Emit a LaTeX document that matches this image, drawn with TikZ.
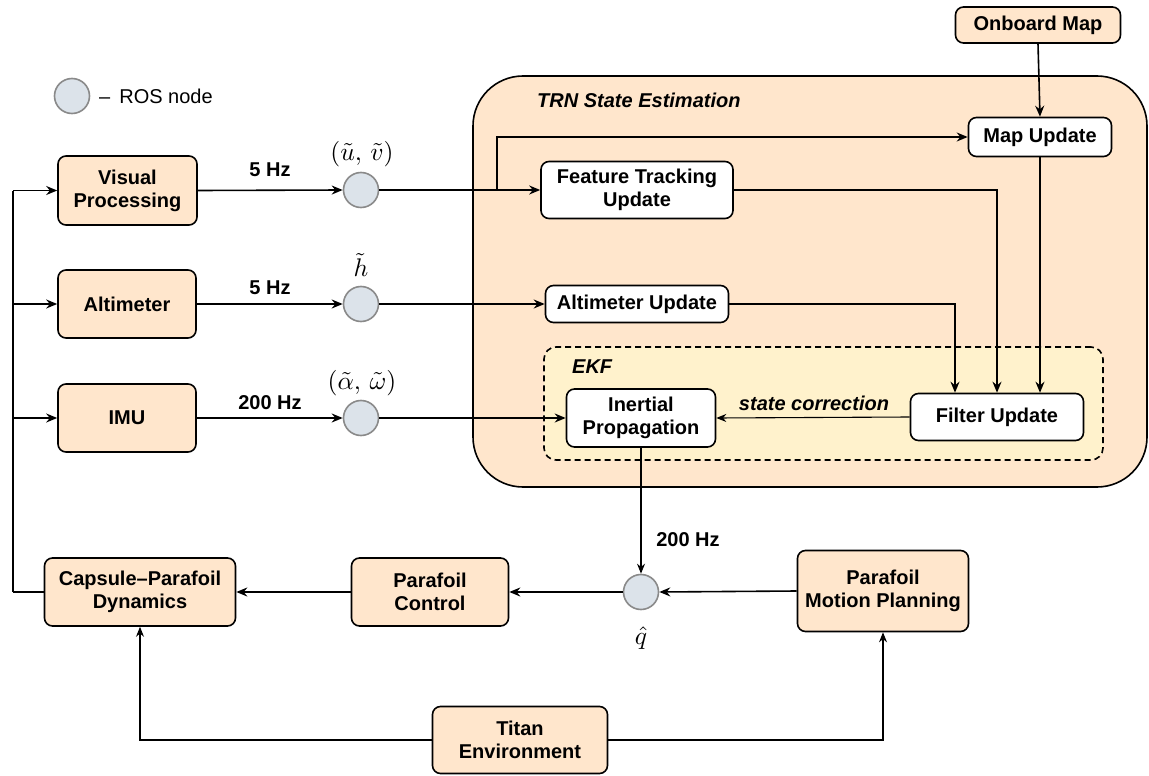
\documentclass[tikz,border=0pt]{standalone}
\usepackage{graphicx}
\usepackage{fontspec}
\setmainfont{Liberation Sans}
\usetikzlibrary{arrows.meta}
\definecolor{peach}{HTML}{FFE6CC}
\definecolor{ekfyel}{HTML}{FFF2CC}
\definecolor{rosfill}{HTML}{DCE3EA}
\definecolor{rosline}{HTML}{8A8A8A}
\newcommand{\bxfont}{\fontsize{20}{23}\selectfont\bfseries}
\newcommand{\mth}[1]{\scalebox{2.55}{$#1$}}
\tikzset{
  blk/.style={draw=black, line width=1.6pt, rounded corners=8pt, fill=peach,
    align=center, font=\bxfont, inner sep=0pt},
  wbox/.style={blk, fill=white},
  ros/.style={circle, draw=rosline, fill=rosfill, line width=1.6pt,
    minimum size=35pt, inner sep=0pt},
  conn/.style={line width=1.6pt, -{Stealth[length=11pt,width=9pt]}},
  tconn/.style={line width=1.1pt, -{Stealth[length=10pt,width=8pt]}},
  lbl/.style={font=\bxfont, inner sep=0pt},
  mlbl/.style={inner sep=0pt},
}
\begin{document}
\begin{tikzpicture}[x=1pt,y=-1pt]
\useasboundingbox (0,0) rectangle (1149,776);

% containers
\node[draw=black, line width=1.6pt, fill=peach, rounded corners=50pt,
  minimum width=674pt, minimum height=411pt, inner sep=0pt] (trn) at (810,281.5) {};
\node[lbl, font=\bxfont\itshape, anchor=west] (trnlbl) at (537,100) {TRN State Estimation};
\node[draw=black, line width=1.6pt, dashed, dash pattern=on 6pt off 4pt, fill=ekfyel,
  rounded corners=12pt, minimum width=559pt, minimum height=113pt, inner sep=0pt] (ekf) at (823.5,403.5) {};
\node[lbl, font=\bxfont\itshape, anchor=west] (ekflbl) at (572,367) {EKF};

% legend
\node[ros] (leg) at (72,96) {};
\node[anchor=west, font=\fontsize{20}{23}\selectfont, inner sep=0pt] (legtxt) at (99,96) {\textendash\hspace{9pt}ROS node};

% sensor boxes
\node[blk, minimum width=139pt, minimum height=69pt] (vis) at (127.5,190.5) {Visual\\Processing};
\node[blk, minimum width=138pt, minimum height=68pt] (alt) at (127,304) {Altimeter};
\node[blk, minimum width=138pt, minimum height=68pt] (imu) at (127,418) {IMU};

% ROS nodes
\node[ros] (uv) at (361,190) {};
\node[ros] (hh) at (361,304) {};
\node[ros] (aw) at (361,418) {};
\node[ros] (qq) at (641,592) {};

\node[lbl] (f1) at (270,170) {5 Hz};
\node[lbl] (f2) at (270,288) {5 Hz};
\node[lbl] (f3) at (270,403) {200 Hz};
\node[mlbl] (uvl) at (362,154) {\mth{(\tilde{u},\,\tilde{v})}};
\node[mlbl] (hl) at (361,265) {\mth{\tilde{h}}};
\node[mlbl] (awl) at (362,383) {\mth{(\tilde{\alpha},\,\tilde{\omega})}};
\node[mlbl] (ql) at (641,638) {\mth{\hat{q}}};
\node[lbl] (f4) at (688,540) {200 Hz};

% TRN internals
\node[blk, minimum width=165pt, minimum height=36pt] (om) at (1038,25) {Onboard Map};
\node[wbox, minimum width=143pt, minimum height=39pt] (mu) at (1040,137) {Map Update};
\node[wbox, minimum width=192pt, minimum height=57pt] (ft) at (637,190) {Feature Tracking\\Update};
\node[wbox, minimum width=183pt, minimum height=37pt] (au) at (637,304) {Altimeter Update};
\node[wbox, minimum width=149pt, minimum height=58pt] (ip) at (641,418) {Inertial\\Propagation};
\node[wbox, minimum width=173pt, minimum height=47pt] (fu) at (997,417) {Filter Update};
\node[lbl, font=\bxfont\itshape] (sc) at (814,403) {state correction};

% bottom row
\node[blk, minimum width=191pt, minimum height=68pt] (cpd) at (140,592) {Capsule--Parafoil\\Dynamics};
\node[blk, minimum width=157pt, minimum height=68pt] (pc) at (430,592) {Parafoil\\Control};
\node[blk, minimum width=171pt, minimum height=81pt] (pmp) at (883,591) {Parafoil\\Motion Planning};
\node[blk, minimum width=175pt, minimum height=67pt] (te) at (520,740) {Titan\\Environment};

% connectors: sensors
\draw[conn] (vis.east) -- (uv.west);
\draw[conn] (alt.east) -- (hh.west);
\draw[conn] (imu.east) -- (aw.west);
\coordinate (br) at (497,190);
\draw[conn] (uv.east) -- (ft.west);
\draw[conn] (br) |- (mu.west);
\draw[conn] (hh.east) -- (au.west);
\draw[conn] (aw.east) -- (ip.west);

% TRN internal
\draw[conn] (om.south) -- (mu.north);
\draw[conn] (mu.south) -- (mu.south |- fu.north);
\draw[conn] (ft.east) -| (fu.north);
\draw[conn] (au.east) -| ([xshift=-42pt]fu.north);
\draw[tconn] (fu.west) -- (ip.east);
\draw[tconn] (ip.south) -- (qq.north);

% bottom
\draw[conn] (pmp.west) -- (qq.east);
\draw[conn] (qq.west) -- (pc.east);
\draw[conn] (pc.west) -- (cpd.east);
\draw[tconn] (te.west) -| (cpd.south);
\draw[tconn] (te.east) -| (pmp.south);

% feedback
\coordinate (fb) at (13,592);
\draw[line width=2.6pt] (cpd.west) -- (fb);
\draw[line width=1.6pt] (fb) -- (fb |- vis.west);
\draw[conn] (fb |- vis.west) -- (vis.west);
\draw[conn] (fb |- alt.west) -- (alt.west);
\draw[conn] (fb |- imu.west) -- (imu.west);
\end{tikzpicture}
\end{document}
